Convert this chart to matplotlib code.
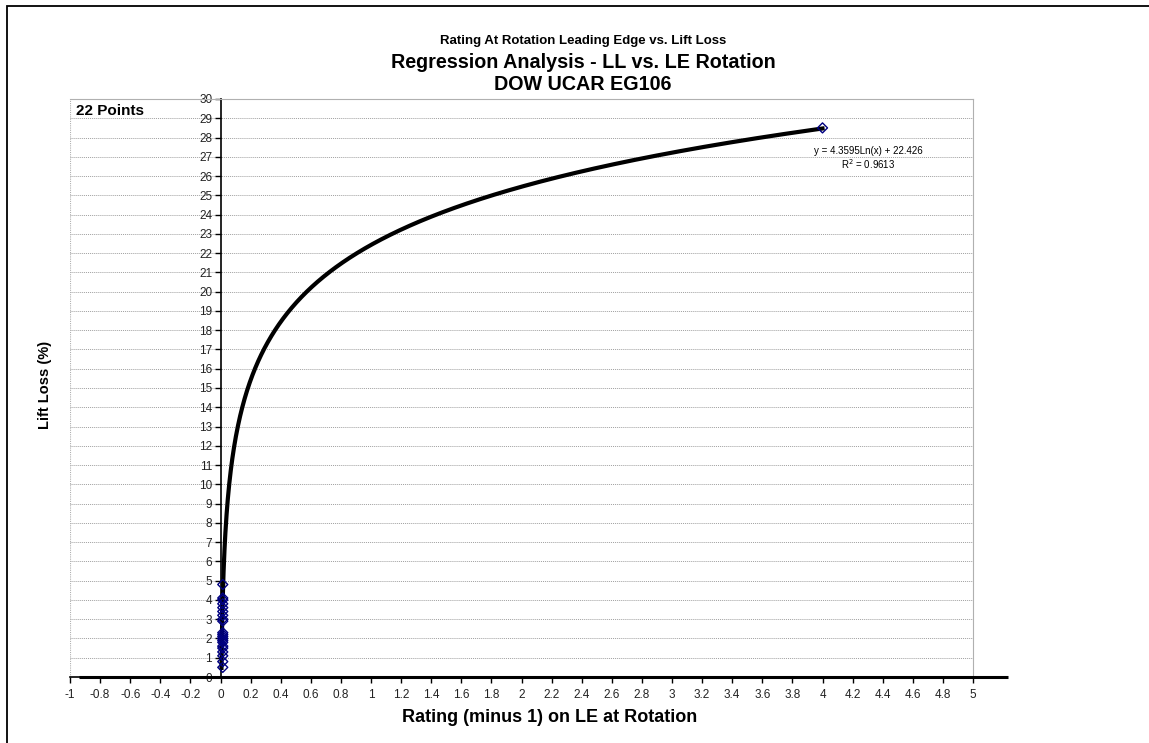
import numpy as np
import matplotlib
matplotlib.use("Agg")
import matplotlib.pyplot as plt
from matplotlib.patches import Rectangle

plt.rcParams['font.family'] = ['Liberation Sans', 'DejaVu Sans']

# Data
x_points = [0.015] * 21 + [4.0]
y_points = [4.8, 4.1, 4.0, 3.8, 3.6, 3.4, 3.2, 3.0, 2.9, 2.3, 2.2, 2.1, 2.0,
            1.9, 1.8, 1.6, 1.5, 1.3, 1.1, 0.8, 0.5, 28.5]
trend_a = 4.3595
trend_b = 22.426
trend_x_start = 0.0065
trend_x_end = 4.0
x_ticks = np.round(np.arange(-1, 5.01, 0.2), 1) + 0.0
y_ticks = list(range(0, 31))

fig = plt.figure(figsize=(11.49, 7.43), dpi=100)
fig.patches.append(Rectangle((7/1149, -0.1), 1.2, 1 - 6/743 + 0.1,
                             transform=fig.transFigure, fill=False,
                             edgecolor='black', linewidth=1.3, zorder=0))

ax = fig.add_axes([70/1149, 1 - 677/743, 903/1149, 578/743])
ax.set_xlim(-1, 5)
ax.set_ylim(0, 30)

for s in ['top', 'right']:
    ax.spines[s].set_linestyle((0, (1, 1)))
    ax.spines[s].set_color('#b0b0b0')
    ax.spines[s].set_linewidth(0.8)
ax.spines['left'].set_position(('data', 0))
ax.spines['left'].set_linewidth(1.2)
ax.spines['bottom'].set_linewidth(1.2)

ax.axvline(-1, color='#b0b0b0', linestyle=(0, (1, 1)), linewidth=0.8)

ax.set_yticks(y_ticks)
ax.set_yticklabels([str(v) for v in y_ticks])
ax.set_xticks(x_ticks)
ax.set_xticklabels(['0' if abs(v) < 1e-9 else '%g' % v for v in x_ticks])
ax.tick_params(axis='both', labelsize=8.5, colors='black', direction='out',
               length=4, width=1)
ax.tick_params(axis='y', pad=2)
ax.tick_params(axis='x', pad=5)
for t in ax.get_yticklabels() + ax.get_xticklabels():
    t.set_color('#222222')

ax.yaxis.grid(True, color='#a0a0a0', linestyle=(0, (1, 1)), linewidth=0.7)
ax.set_axisbelow(True)

ax.plot([-0.94, 5.23], [0, 0], color='black', linewidth=2.2, clip_on=False,
        solid_capstyle='butt', zorder=3)

tx = np.linspace(trend_x_start, trend_x_end, 2000)
ty = trend_a * np.log(tx) + trend_b
ax.plot(tx, ty, color='black', linewidth=3.0, zorder=4)

ax.scatter(x_points, y_points, marker='D', s=26, facecolors='none',
           edgecolors='#000080', linewidths=1.0, zorder=5, clip_on=False)

fig.text(868/1149, 1 - 151/743, 'y = 4.3595Ln(x) + 22.426', ha='center',
         va='center', fontsize=7)
fig.text(868/1149, 1 - 164/743, 'R$^2$ = 0.9613', ha='center', va='center',
         fontsize=7)

fig.text(76/1149, 1 - 111/743, '22 Points', ha='left', va='center',
         fontsize=11, fontweight='bold')

fig.text(583/1149, 1 - 41/743, 'Rating At Rotation Leading Edge vs. Lift Loss',
         ha='center', va='center', fontsize=9.5, fontweight='bold')
fig.text(583/1149, 1 - 62/743, 'Regression Analysis - LL vs. LE Rotation',
         ha='center', va='center', fontsize=14.2, fontweight='bold')
fig.text(583/1149, 1 - 85/743, 'DOW UCAR EG106',
         ha='center', va='center', fontsize=14.2, fontweight='bold')

fig.text(45/1149, 1 - 385/743, 'Lift Loss (%)', rotation=90, ha='center',
         va='center', fontsize=10.5, fontweight='bold')
fig.text(550/1149, 1 - 717/743, 'Rating (minus 1) on LE at Rotation',
         ha='center', va='center', fontsize=13, fontweight='bold')

fig.savefig('out.png', dpi=100)
